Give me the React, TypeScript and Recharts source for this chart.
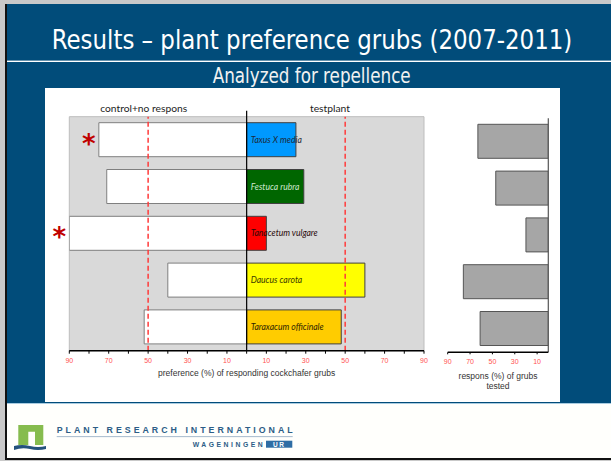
import { BarChart, Bar, XAxis, YAxis, CartesianGrid, ReferenceLine, ReferenceArea, LabelList, Cell, Label } from "recharts";

const plants = ["Taxus X media", "Festuca rubra", "Tanacetum vulgare", "Daucus carota", "Taraxacum officinale"];
// preference (%) of responding grubs: test plant vs control+no respons
const testplant = [25, 29, 10, 60, 48];
const control = [75, 71, 90, 40, 52];
const significant = [true, false, true, false, false];
// respons (%) of grubs tested
const responded = [63, 47, 20, 76, 61];

const plantColors = ["#0099FF", "#006600", "#FF0000", "#FFFF00", "#FFCC00"];
const labelColors = ["#1c2a3a", "#cfe8cf", "#2a0a0a", "#3a3a00", "#2e2400"];

const prefTicks = [-90, -80, -70, -60, -50, -40, -30, -20, -10, 0, 10, 20, 30, 40, 50, 60, 70, 80, 90];
const responsTicks = [10, 30, 50, 70, 90];

const prefData = plants.map((name, i) => ({ name, test: testplant[i], control: -control[i] }));
const responsData = plants.map((name, i) => ({ name, value: responded[i] }));

const BLUE = "#014C7A";
const TICK_RED = "#FF5252";
const SANS = "'Liberation Sans', Arial, sans-serif";
const CALIBRI = "Lato, 'Open Sans', sans-serif";
const NARROW = "'Liberation Sans Narrow', 'DejaVu Sans Condensed', Roboto, sans-serif";

function PrefTick({ x, y, payload }: any) {
  const v = payload.value;
  if (Math.abs(v) % 20 !== 10) return <g />;
  return (
    <text x={x} y={y} dy="0.71em" textAnchor="middle" fontSize={7} fill={TICK_RED} fontFamily={SANS}>
      {Math.abs(v)}
    </text>
  );
}

function ResponsTick({ x, y, payload }: any) {
  return (
    <text x={x} y={y} dy="0.71em" textAnchor="middle" fontSize={7} fill={TICK_RED} fontFamily={SANS}>
      {payload.value}
    </text>
  );
}

function PlantLabel(props: any) {
  const { x, y, width, height, value } = props;
  const left = Math.min(x, x + width);
  const i = plants.indexOf(value);
  return (
    <text x={left + 4} y={y + height / 2} dominantBaseline="central" fontSize={8.6} fontStyle="italic"
      fill={labelColors[i]} fontFamily={CALIBRI}>
      {value}
    </text>
  );
}

function Star(props: any) {
  const { x, y, width, height, value } = props;
  if (!significant[plants.indexOf(value)]) return <g />;
  const left = Math.min(x, x + width);
  return (
    <text x={left - 10} y={y + height / 2 + 13} textAnchor="middle" fontSize={26} fontWeight="bold"
      fill="#C00000" fontFamily="'DejaVu Sans', sans-serif">
      *
    </text>
  );
}

function PrefTitle({ viewBox }: any) {
  const { x, y, width } = viewBox;
  return (
    <text x={x + width / 2} y={y + 25.6} textAnchor="middle" fontSize={8.5} fill="#333" fontFamily={SANS}>
      preference (%) of responding cockchafer grubs
    </text>
  );
}

function ResponsTitle({ viewBox }: any) {
  const { x, y, width } = viewBox;
  return (
    <text textAnchor="middle" fontSize={8.5} fill="#333" fontFamily={SANS}>
      <tspan x={x + width / 2} y={y + 26.7}>respons (%) of grubs</tspan>
      <tspan x={x + width / 2} y={y + 36.7}>tested</tspan>
    </text>
  );
}

function Slide() {
  return (
    <svg width={611} height={461} style={{ position: "absolute", left: 0, top: 0 }}>
      <rect x={0} y={0} width={611} height={461} fill="#C9C9C9" />
      <rect x={5} y={4} width={606} height={456} fill="#FFFFFC" />
      <rect x={5} y={4} width={2} height={456} fill="#111" />
      <rect x={5} y={458} width={606} height={2} fill="#111" />
      <rect x={7} y={4} width={604} height={399} fill={BLUE} />
      <rect x={7} y={60.6} width={604} height={1.4} fill="#fff" />
      <rect x={7} y={403} width={604} height={1} fill="#A9CCE0" />
      <rect x={45} y={88} width={515} height={314} fill="#fff" />
      <text x={51.7} y={49.3} fontSize={26} fontWeight={300} fill="#fff" textLength={520.6}
        lengthAdjust="spacingAndGlyphs" fontFamily={NARROW}>
        Results – plant preference grubs (2007-2011)
      </text>
      <text x={212.7} y={83} fontSize={21} fontWeight={300} fill="#F2F2F2" textLength={198}
        lengthAdjust="spacingAndGlyphs" fontFamily={NARROW}>
        Analyzed for repellence
      </text>
      <text x={143.7} y={111.6} textAnchor="middle" fontSize={10} fill="#222" fontFamily={CALIBRI}
        textLength={87} lengthAdjust="spacingAndGlyphs">
        control+no respons
      </text>
      <text x={330} y={111.6} textAnchor="middle" fontSize={10} fill="#222" fontFamily={CALIBRI}
        textLength={40} lengthAdjust="spacingAndGlyphs">
        testplant
      </text>
      {/* logo */}
      <path d="M18.3 425 H43.3 V445 H35 V431.7 H28.3 V445 H18.3 Z" fill="#86BC4E" />
      <path d="M14 446 Q22 444 30 446 T46 446 L46 449 Q38 451 30 449 T14 450 Z" fill="#24527D" />
      <text x={56.7} y={433.3} fontSize={8.8} fontWeight="bold" fill="#2C5D86" fontFamily={SANS}
        textLength={236} lengthAdjust="spacing">
        PLANT RESEARCH INTERNATIONAL
      </text>
      <rect x={56.7} y={436.3} width={236} height={0.8} fill="#8FA9C0" />
      <text x={192.7} y={446.7} fontSize={6.8} fontWeight="bold" fill="#2C5D86" fontFamily={SANS}
        textLength={70} lengthAdjust="spacing">
        WAGENINGEN
      </text>
      <rect x={266} y={440.7} width={26.3} height={7} fill="#2E6DA4" />
      <text x={279.2} y={446.6} textAnchor="middle" fontSize={6.5} fontWeight="bold" fill="#fff" fontFamily={SANS}
        letterSpacing={1.5}>
        UR
      </text>
    </svg>
  );
}

export default function App() {
  return (
    <div style={{ position: "absolute", left: 0, top: 0, width: 611, height: 461, overflow: "hidden" }}>
      <Slide />
      <div style={{ position: "absolute", left: 45, top: 88 }}>
        <BarChart layout="vertical" width={400} height={310} data={prefData} stackOffset="sign" barSize={34}
          margin={{ top: 28.7, right: 21, bottom: 17.3, left: 24.3 }}>
          <CartesianGrid fill="#D9D9D9" horizontal={false} vertical={false} />
          <ReferenceArea x1={-90} x2={90} fill="none" stroke="#BDBDBD" />
          <XAxis type="number" domain={[-90, 90]} ticks={prefTicks} interval={0} tick={PrefTick}
            tickSize={3} tickMargin={4} height={30} allowDataOverflow
            axisLine={{ stroke: "#000", strokeWidth: 1.5 }} tickLine={{ stroke: "#000" }}>
            <Label content={PrefTitle} />
          </XAxis>
          <YAxis type="category" dataKey="name" hide />
          <Bar dataKey="control" stackId="a" fill="#fff" stroke="#7F7F7F" strokeWidth={1} isAnimationActive={false}>
            <LabelList dataKey="name" content={Star} />
          </Bar>
          <Bar dataKey="test" stackId="a" stroke="#404040" strokeWidth={1} isAnimationActive={false}>
            {prefData.map((d, i) => (
              <Cell key={d.name} fill={plantColors[i]} />
            ))}
            <LabelList dataKey="name" content={PlantLabel} />
          </Bar>
          <ReferenceLine x={-50} stroke="#FF3B3B" strokeWidth={1.5} strokeDasharray="5 3" />
          <ReferenceLine x={50} stroke="#FF3B3B" strokeWidth={1.5} strokeDasharray="5 3" />
          <ReferenceLine x={0} stroke="#000" strokeWidth={1.2}
            shape={(p: any) => (
              <line x1={p.x1} x2={p.x2} y1={Math.min(p.y1, p.y2) - 6} y2={Math.max(p.y1, p.y2)}
                stroke="#000" strokeWidth={1.2} />
            )} />
        </BarChart>
      </div>
      <div style={{ position: "absolute", left: 440, top: 88 }}>
        <BarChart layout="vertical" width={120} height={310} data={responsData} barSize={34}
          margin={{ top: 30.3, right: 11.7, bottom: 15.7, left: 7.7 }}>
          <XAxis type="number" domain={[0, 90]} reversed ticks={responsTicks} interval={0} tick={ResponsTick}
            tickSize={2} tickMargin={5} height={30} allowDataOverflow
            axisLine={{ stroke: "#000", strokeWidth: 1.5 }} tickLine={{ stroke: "#000" }}>
            <Label content={ResponsTitle} />
          </XAxis>
          <YAxis type="category" dataKey="name" hide />
          <Bar dataKey="value" fill="#A6A6A6" stroke="#555" strokeWidth={1} isAnimationActive={false} />
          <ReferenceLine x={0} stroke="#555" strokeWidth={1.2} />
        </BarChart>
      </div>
    </div>
  );
}
